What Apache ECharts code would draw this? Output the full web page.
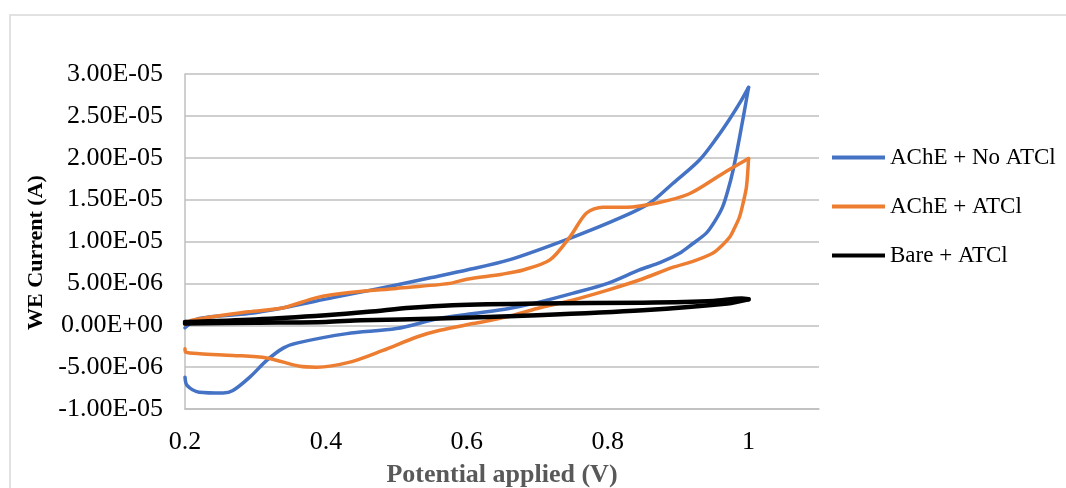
<!DOCTYPE html>
<html>
<head>
<meta charset="utf-8">
<script src="https://cdn.jsdelivr.net/npm/echarts@6/dist/echarts.min.js"></script>
<style>html,body{margin:0;padding:0;background:#fff}#c{width:1066px;height:488px}</style>
</head>
<body>
<div id="c"></div>
<script>
// Potential (V) and current (µA, converted to A below); each CV loop split into forward and reverse sweeps
const blueFwdV = [0.2, 0.22, 0.29, 0.34, 0.41, 0.5, 0.55, 0.6, 0.66, 0.75, 0.82, 0.86, 0.892, 0.93, 0.955, 0.973, 0.988, 1.0];
const blueFwdI = [-0.3, 0.8, 1.4, 2.1, 3.3, 4.8, 5.7, 6.6, 7.8, 10.5, 12.9, 14.6, 16.9, 19.7, 22.4, 24.6, 26.6, 28.4];
const blueRevV = [1.0, 0.995, 0.99, 0.984, 0.978, 0.971, 0.963, 0.952, 0.94, 0.92, 0.902, 0.875, 0.845, 0.8, 0.75, 0.7, 0.66, 0.61, 0.56, 0.5, 0.43, 0.36, 0.34, 0.316, 0.292, 0.268, 0.254, 0.22, 0.203, 0.2];
const blueRevI = [28.4, 26.0, 23.7, 21.0, 18.5, 16.2, 14.1, 12.4, 11.0, 9.7, 8.6, 7.5, 6.6, 5.0, 3.8, 2.7, 2.0, 1.4, 0.8, -0.4, -1.0, -2.1, -2.7, -4.2, -6.2, -7.8, -8.1, -8.0, -7.2, -6.2];
const orangeFwdV = [0.2, 0.21, 0.29, 0.34, 0.387, 0.434, 0.5, 0.576, 0.6, 0.65, 0.68, 0.718, 0.746, 0.77, 0.793, 0.827, 0.87, 0.916, 0.963, 1.0];
const orangeFwdI = [0.1, 0.6, 1.6, 2.1, 3.3, 3.9, 4.4, 5.0, 5.5, 6.1, 6.6, 7.8, 10.5, 13.4, 14.1, 14.1, 14.6, 15.7, 18.1, 19.9];
const orangeRevV = [1.0, 0.997, 0.992, 0.987, 0.98, 0.973, 0.962, 0.949, 0.92, 0.892, 0.845, 0.8, 0.75, 0.7, 0.657, 0.609, 0.562, 0.529, 0.481, 0.434, 0.387, 0.363, 0.316, 0.268, 0.221, 0.201, 0.2];
const orangeRevI = [19.9, 16.5, 14.5, 12.9, 11.6, 10.5, 9.5, 8.6, 7.6, 6.9, 5.4, 4.2, 3.0, 2.0, 1.0, 0.2, -0.6, -1.4, -3.0, -4.4, -5.0, -4.9, -3.9, -3.6, -3.4, -3.2, -2.8];
const blackFwdV = [0.2, 0.3, 0.4, 0.46, 0.52, 0.58, 0.7, 0.85, 0.95, 0.99, 1.0];
const blackFwdI = [0.4, 0.7, 1.2, 1.6, 2.1, 2.4, 2.6, 2.7, 2.9, 3.2, 3.1];
const blackRevV = [1.0, 0.97, 0.85, 0.7, 0.56, 0.45, 0.4, 0.3, 0.2];
const blackRevI = [3.1, 2.6, 1.8, 1.2, 0.8, 0.6, 0.4, 0.3, 0.2];
const seriesNames = ['AChE + No ATCl', 'AChE + ATCl', 'Bare + ATCl'];
const xTicks = [0.2, 0.4, 0.6, 0.8, 1];

function pairs(v, i) { return v.map((x, k) => [x, i[k] * 1e-6]); }
function sci(v) {
  if (Math.abs(v) < 1e-12) return '0.00E+00';
  const s = v.toExponential(2);
  const m = s.split('e');
  const e = parseInt(m[1], 10);
  const es = (e < 0 ? '-' : '+') + String(Math.abs(e)).padStart(2, '0');
  return m[0] + 'E' + es;
}
function branch(name, data, color, width) {
  return {name: name, type: 'line', data: data, smooth: 0.3, symbol: 'none',
    lineStyle: {color: color, width: width, cap: 'round', join: 'round'}, itemStyle: {color: color}};
}
const font = '"Liberation Serif", "Times New Roman", serif';
const chart = echarts.init(document.getElementById('c'), null, {renderer: 'canvas'});
chart.setOption({
  animation: false,
  backgroundColor: '#fff',
  graphic: [{type: 'rect', shape: {x: 10, y: 15, width: 1070, height: 490}, style: {fill: 'none', stroke: '#d9d9d9', lineWidth: 1.5}, silent: true}],
  grid: {left: 185, right: 247, top: 74, bottom: 79, outerBoundsMode: 'none', containLabel: false},
  legend: {
    orient: 'vertical', left: 827, top: 141, itemGap: 26, itemWidth: 53, itemHeight: 4, icon: 'rect',
    textStyle: {fontFamily: font, fontSize: 23, color: '#000', padding: [0, 0, 0, 0]},
    data: seriesNames
  },
  xAxis: {
    type: 'value', min: 0.2, max: 1.1, interval: 0.2,
    name: 'Potential applied (V)', nameLocation: 'middle', nameGap: 53,
    nameTextStyle: {fontFamily: font, fontSize: 26, fontWeight: 'bold', color: '#595959'},
    axisLine: {onZero: false, lineStyle: {color: '#bfbfbf', width: 1.5}},
    axisTick: {show: false},
    splitLine: {show: false},
    axisLabel: {fontFamily: font, fontSize: 26, color: '#000', margin: 20,
      formatter: v => (xTicks.some(t => Math.abs(t - v) < 1e-9) ? String(+v.toFixed(1)) : '')}
  },
  yAxis: {
    type: 'value', min: -1e-5, max: 3e-5, interval: 5e-6,
    name: 'WE Current (A)', nameLocation: 'middle', nameGap: 132, nameRotate: 90,
    nameTextStyle: {fontFamily: font, fontSize: 22, fontWeight: 'bold', color: '#000', padding: [0, 22, 0, 0]},
    axisLine: {show: true, onZero: false, lineStyle: {color: '#bfbfbf', width: 1.5}},
    axisTick: {show: false},
    splitLine: {lineStyle: {color: '#bfbfbf', width: 1.5}},
    axisLabel: {fontFamily: font, fontSize: 26, color: '#000', margin: 22, formatter: sci}
  },
  series: [
    branch(seriesNames[0], pairs(blueFwdV, blueFwdI), '#4472C4', 3.5),
    branch(seriesNames[0], pairs(blueRevV, blueRevI), '#4472C4', 3.5),
    branch(seriesNames[1], pairs(orangeFwdV, orangeFwdI), '#ED7D31', 3.5),
    branch(seriesNames[1], pairs(orangeRevV, orangeRevI), '#ED7D31', 3.5),
    branch(seriesNames[2], pairs(blackFwdV, blackFwdI), '#000', 4.5),
    branch(seriesNames[2], pairs(blackRevV, blackRevI), '#000', 4.5)
  ]
});
</script>
</body>
</html>
